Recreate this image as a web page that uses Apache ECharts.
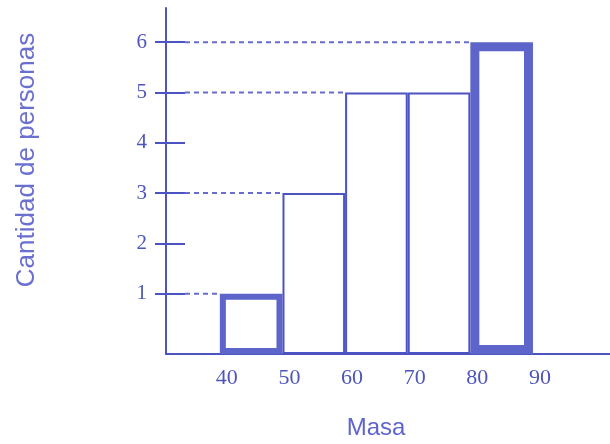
<!DOCTYPE html>
<html>
<head>
<meta charset="utf-8">
<script src="https://cdn.jsdelivr.net/npm/echarts@6/dist/echarts.min.js"></script>
<style>html,body{margin:0;padding:0;background:#fff;}#c{width:610px;height:444px;}</style>
</head>
<body>
<div id="c"></div>
<script>
// ---- data ----
const binStarts = [40, 50, 60, 70, 80];
const binEnds   = [50, 60, 70, 80, 90];
const counts    = [1, 3, 5, 5, 6];
const xTickLabels = [40, 50, 60, 70, 80, 90];
const yTickLabels = [1, 2, 3, 4, 5, 6];
const xTitle = 'Masa';
const yTitle = 'Cantidad de personas';

// ---- styling ----
const lineColor = '#4c53c3';
const thickColor = '#5d64ca';
const digitColor = '#4f55bb';
const titleColor = '#5e64cc';
const X_MIN = 31.4, X_MAX = 102.3;
const Y_MIN = -0.2, Y_MAX = 6.68;
const thickWidth = {0: 6, 4: 9};

const barData = counts.map((c, i) => [binStarts[i], binEnds[i], c]);
// dashed guide lines: to the left edge of each bar that reaches a new maximum
const guideData = [];
let runMax = -Infinity;
counts.forEach((c, i) => { if (c > runMax) { guideData.push([binStarts[i], c]); runMax = c; } });

const chart = echarts.init(document.getElementById('c'), null, {renderer: 'canvas'});
chart.setOption({
  animation: false,
  backgroundColor: '#ffffff',
  grid: {left: 166, right: 0, top: 8, bottom: 90, containLabel: false},
  xAxis: {
    type: 'value', min: X_MIN, max: X_MAX,
    axisLine: {show: true, onZero: false, lineStyle: {color: lineColor, width: 2}},
    axisTick: {show: false},
    splitLine: {show: false},
    axisLabel: {
      customValues: xTickLabels, margin: 13, padding: [0, 0, 0, 14],
      color: digitColor, fontFamily: 'Liberation Serif', fontSize: 22
    }
  },
  yAxis: [{
    type: 'value', min: Y_MIN, max: Y_MAX, position: 'left',
    axisLine: {show: true, onZero: false, lineStyle: {color: lineColor, width: 2}},
    axisTick: {show: true, customValues: yTickLabels, length: 11, lineStyle: {color: lineColor, width: 2}},
    splitLine: {show: false},
    axisLabel: {
      customValues: yTickLabels, margin: 19,
      color: digitColor, fontFamily: 'Liberation Serif', fontSize: 21
    }
  }, {
    type: 'value', min: Y_MIN, max: Y_MAX, position: 'left', offset: 0,
    axisLine: {show: false},
    axisTick: {show: true, inside: true, customValues: yTickLabels, length: 19, lineStyle: {color: lineColor, width: 2}},
    axisLabel: {show: false},
    splitLine: {show: false}
  }],
  graphic: [{
    type: 'text', x: 376, y: 428,
    style: {text: xTitle, fill: titleColor, font: '24px "Liberation Sans", Arial, sans-serif',
            align: 'center', verticalAlign: 'middle'}
  }, {
    type: 'text', x: 27, y: 160, rotation: Math.PI / 2,
    style: {text: yTitle, fill: '#6a6fd0', font: '26px "Liberation Sans", Arial, sans-serif',
            align: 'center', verticalAlign: 'middle'}
  }],
  series: [{
    type: 'custom',
    data: guideData,
    z: 1,
    renderItem: function (params, api) {
      const p0 = api.coord([X_MIN, api.value(1)]);
      const p1 = api.coord([api.value(0), api.value(1)]);
      return {
        type: 'line',
        shape: {x1: p0[0] + 19, y1: p0[1], x2: p1[0], y2: p1[1]},
        style: {stroke: lineColor, lineWidth: 2, lineDash: [5, 4], opacity: 0.85}
      };
    }
  }, {
    type: 'custom',
    data: barData,
    z: 2,
    renderItem: function (params, api) {
      const i = params.dataIndex;
      const a = api.coord([api.value(0), Y_MIN]);
      const b = api.coord([api.value(1), api.value(2)]);
      const w = thickWidth[i] || 2;
      const h = w / 2;
      const x = a[0] + h, y = b[1] + h;
      return {
        type: 'rect',
        shape: {x: x, y: y, width: b[0] - a[0] - w, height: a[1] - b[1] - w},
        style: {fill: '#ffffff', stroke: w > 2 ? thickColor : lineColor, lineWidth: w}
      };
    }
  }]
});
</script>
</body>
</html>
